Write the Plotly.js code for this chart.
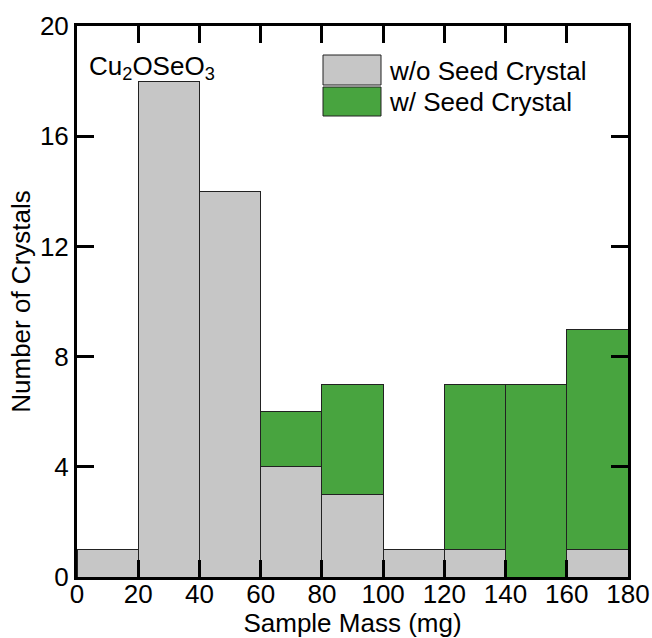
<!DOCTYPE html>
<html>
<head>
<meta charset="utf-8">
<script src="https://cdn.plot.ly/plotly-3.0.1.min.js"></script>
<style>html,body{margin:0;padding:0;background:#fff;}#chart{width:652px;height:638px;}</style>
</head>
<body>
<div id="chart"></div>
<script>
// Bin centers (mg), bin width 20
const binCenters = [10, 30, 50, 70, 90, 110, 130, 150, 170];
const binWidths = [20, 20, 20, 20, 20, 20, 20, 20, 20];
// Counts
const withoutSeed = [1, 18, 14, 4, 3, 1, 1, 0, 1];
const withSeed = [0, 0, 0, 2, 4, 0, 6, 7, 8];
const seriesNames = ["w/o Seed Crystal", "w/ Seed Crystal"];
const xTicks = [0, 20, 40, 60, 80, 100, 120, 140, 160, 180];
const yTicks = [0, 4, 8, 12, 16, 20];

const grayColor = "#c6c6c6";
const greenColor = "#48a43f";
const font = "Liberation Sans, Arial, sans-serif";
const fs = 26;

const traces = [
  {type: "bar", x: binCenters, y: withoutSeed, width: binWidths, name: seriesNames[0],
   marker: {color: grayColor, line: {color: "#222", width: 1}}, showlegend: false, hoverinfo: "none"},
  {type: "bar", x: binCenters, y: withSeed, width: binWidths, name: seriesNames[1],
   marker: {color: greenColor, line: {color: "#222", width: 1}}, showlegend: false, hoverinfo: "none"}
];

const pl = 77, pt = 26, pw = 551, ph = 551;
const px = v => (v - pl) / pw;
const py = v => (pt + ph - v) / ph;

const layout = {
  width: 652, height: 638,
  margin: {l: pl, r: 652 - pl - pw, t: pt, b: 638 - pt - ph},
  paper_bgcolor: "#fff", plot_bgcolor: "#fff",
  barmode: "stack", bargap: 0,
  font: {family: font, size: fs, color: "#000"},
  xaxis: {range: [0, 180], tickvals: xTicks, ticktext: xTicks.map(String),
    ticks: "inside", ticklen: 17, tickwidth: 3, tickcolor: "#000",
    showline: true, linewidth: 3, linecolor: "#000", mirror: "ticks",
    showgrid: false, zeroline: false, tickfont: {family: font, size: fs},
    ticklabelstandoff: -8,
    title: {text: "Sample Mass (mg)", font: {family: font, size: fs}, standoff: 12}},
  yaxis: {range: [0, 20], tickvals: yTicks, ticktext: yTicks.map(String),
    ticks: "inside", ticklen: 17, tickwidth: 3, tickcolor: "#000",
    showline: true, linewidth: 3, linecolor: "#000", mirror: "ticks",
    showgrid: false, zeroline: false, tickfont: {family: font, size: fs},
    title: {text: "Number of Crystals", font: {family: font, size: fs}, standoff: 2}},
  shapes: [
    {type: "rect", xref: "paper", yref: "paper", x0: px(323), x1: px(381), y0: py(85), y1: py(55),
     fillcolor: grayColor, line: {color: "#222", width: 1}},
    {type: "rect", xref: "paper", yref: "paper", x0: px(323), x1: px(381), y0: py(116), y1: py(87),
     fillcolor: greenColor, line: {color: "#222", width: 1}}
  ],
  annotations: [
    {xref: "paper", yref: "paper", x: px(87), y: py(67), xanchor: "left", yanchor: "middle",
     text: "Cu<sub>2</sub>OSeO<sub>3</sub>", showarrow: false, font: {family: font, size: fs}},
    {xref: "paper", yref: "paper", x: px(387), y: py(71), xanchor: "left", yanchor: "middle",
     text: seriesNames[0], showarrow: false, font: {family: font, size: fs}},
    {xref: "paper", yref: "paper", x: px(387), y: py(102), xanchor: "left", yanchor: "middle",
     text: seriesNames[1], showarrow: false, font: {family: font, size: fs}}
  ]
};

Plotly.newPlot("chart", traces, layout, {displayModeBar: false, staticPlot: true});
</script>
</body>
</html>
